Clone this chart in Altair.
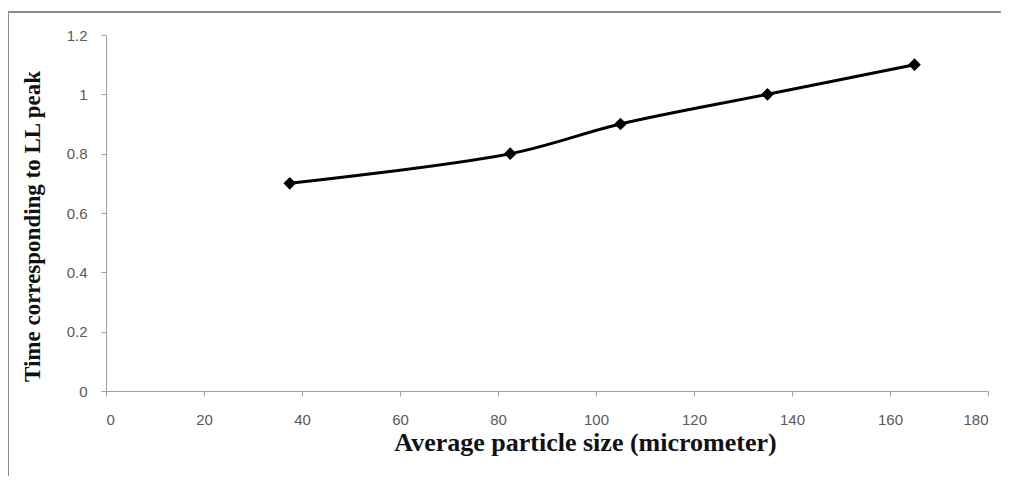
import altair as alt
import pandas as pd

sizes = [37.5, 82.5, 105, 135, 165]
times = [0.7, 0.8, 0.9, 1.0, 1.1]
x_ticks = [0, 20, 40, 60, 80, 100, 120, 140, 160, 180]
y_ticks = [0, 0.2, 0.4, 0.6, 0.8, 1.0, 1.2]

df = pd.DataFrame({"size": sizes, "time": times})

x_enc = alt.X(
    "size:Q",
    scale=alt.Scale(domain=[0, 180], nice=False, zero=False),
    axis=alt.Axis(
        values=x_ticks, title="Average particle size (micrometer)",
        titleFont="Liberation Serif", titleFontSize=26, titleFontWeight="bold",
        titleColor="#111111", titleX=479, titleY=51, titleBaseline="middle",
        labelFont="Liberation Sans", labelFontSize=15, labelColor="#595959",
        labelPadding=16, tickSize=5, tickColor="#a0a0a0",
        domainColor="#a0a0a0", grid=False,
    ),
)
y_enc = alt.Y(
    "time:Q",
    scale=alt.Scale(domain=[0, 1.2], nice=False),
    axis=alt.Axis(
        values=y_ticks, format="~g", title="Time corresponding to LL peak",
        titleFont="Liberation Serif", titleFontSize=23, titleFontWeight="bold",
        titleColor="#111111", titleX=-74, titleY=191, titleBaseline="middle",
        titleAngle=-90,
        labelFont="Liberation Sans", labelFontSize=15, labelColor="#595959",
        labelPadding=14, tickSize=5, tickColor="#a0a0a0",
        domainColor="#a0a0a0", grid=False,
    ),
)

line = alt.Chart(df).mark_line(color="black", strokeWidth=3, interpolate="catmull-rom").encode(x=x_enc, y=y_enc)
pts = alt.Chart(df).mark_point(shape="diamond", filled=True, color="black", size=160, opacity=1).encode(x="size:Q", y="time:Q")

frame_top = alt.Chart(df).mark_rule(color="#8c8c8c", strokeWidth=2).encode(
    x=alt.value(-98), x2=alt.value(1010), y=alt.value(-23)
)
frame_left = alt.Chart(df).mark_rule(color="#8c8c8c", strokeWidth=2).encode(
    x=alt.value(-98), y=alt.value(-23), y2=alt.value(500)
)

chart = alt.layer(frame_top, frame_left, line, pts).properties(
    width=882, height=356,
    autosize=alt.AutoSizeParams(type="none"),
    padding={"left": 98, "top": 27, "right": 13, "bottom": 85},
).configure_view(stroke=None)

chart.save("out.html", embed_options={"renderer": "svg", "actions": False})
